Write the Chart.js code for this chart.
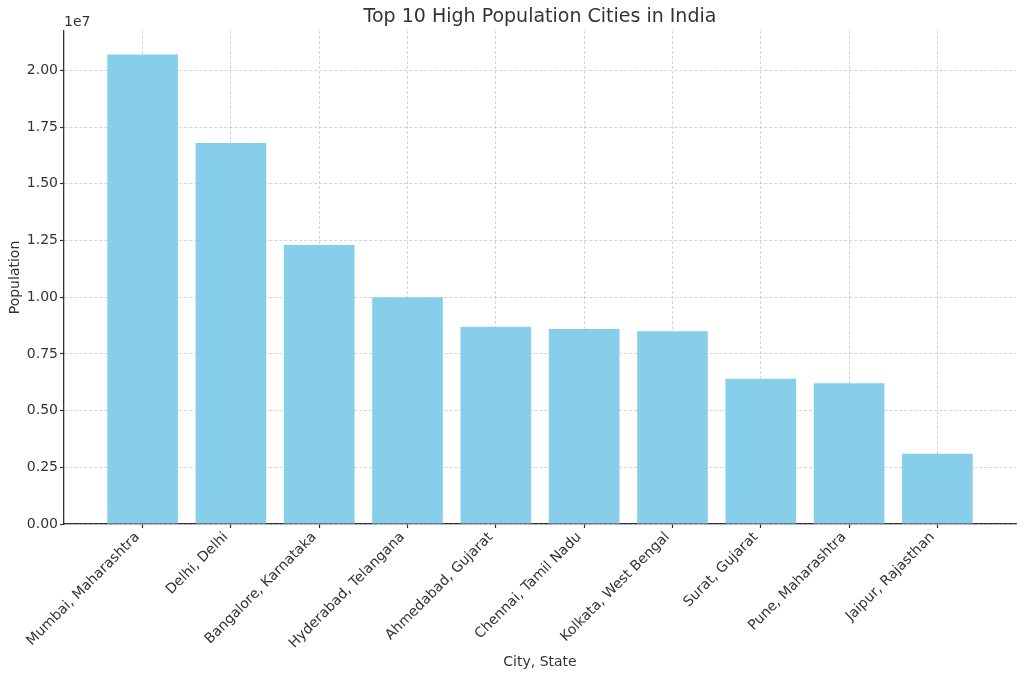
<!DOCTYPE html>
<html>
<head>
<meta charset="utf-8">
<script src="https://cdn.jsdelivr.net/npm/chart.js@4.4.1/dist/chart.umd.min.js"></script>
<style>
  html, body { margin: 0; padding: 0; background: #fff; }
  canvas { display: block; }
</style>
</head>
<body>
<canvas id="popChart" width="1024" height="680"></canvas>
<script>
const cities = [
    'Mumbai, Maharashtra', 'Delhi, Delhi', 'Bangalore, Karnataka', 'Hyderabad, Telangana',
    'Ahmedabad, Gujarat', 'Chennai, Tamil Nadu', 'Kolkata, West Bengal', 'Surat, Gujarat',
    'Pune, Maharashtra', 'Jaipur, Rajasthan'
];
const population = [20700000, 16800000, 12300000, 10000000, 8700000, 8600000, 8500000, 6400000, 6200000, 3100000];
const yTicks = [0, 2500000, 5000000, 7500000, 10000000, 12500000, 15000000, 17500000, 20000000];

const textColor = '#333333';
const gridColor = 'rgba(165, 165, 165, 0.6)';
const fontFamily = 'DejaVu Sans';

// title and the "1e7" offset text, drawn like matplotlib does
const headerPlugin = {
    id: 'header',
    afterDraw(chart) {
        const { ctx, chartArea } = chart;
        ctx.save();
        ctx.fillStyle = textColor;
        ctx.textBaseline = 'middle';
        ctx.font = '19px "' + fontFamily + '"';
        ctx.textAlign = 'center';
        ctx.fillText('Top 10 High Population Cities in India', (chartArea.left + chartArea.right) / 2, 17);
        ctx.font = '14px "' + fontFamily + '"';
        ctx.textAlign = 'left';
        ctx.fillText('1e7', chartArea.left, 22);
        ctx.restore();
    }
};

const ctx = document.getElementById('popChart').getContext('2d');

new Chart(ctx, {
    type: 'bar',
    data: {
        datasets: [{
            data: population.map((v, i) => ({ x: i, y: v })),
            backgroundColor: '#87CEEB',
            borderWidth: 0,
            barPercentage: 0.8,
            categoryPercentage: 1.0
        }]
    },
    options: {
        responsive: false,
        animation: false,
        devicePixelRatio: 1,
        layout: {
            padding: { top: 31, right: 8, left: 0, bottom: 0 }
        },
        plugins: {
            legend: { display: false },
            tooltip: { enabled: false },
            title: { display: false }
        },
        scales: {
            x: {
                type: 'linear',
                min: -0.89,
                max: 9.89,
                offset: false,
                z: 1,
                afterBuildTicks: (scale) => {
                    scale.ticks = cities.map((c, i) => ({ value: i }));
                },
                afterFit: (scale) => {
                    scale.height = 156;
                    scale.paddingLeft = 0;
                    scale.paddingRight = 0;
                },
                ticks: {
                    autoSkip: false,
                    minRotation: 45,
                    maxRotation: 45,
                    padding: 1,
                    labelOffset: -5,
                    color: textColor,
                    font: { family: fontFamily, size: 14 },
                    callback: (value) => cities[value]
                },
                grid: {
                    offset: false,
                    color: gridColor,
                    lineWidth: 0.8,
                    drawTicks: true,
                    tickLength: 4,
                    tickColor: textColor,
                    tickWidth: 1.2
                },
                border: {
                    display: true,
                    color: textColor,
                    width: 1.3,
                    dash: [3, 2]
                },
                title: {
                    display: true,
                    text: 'City, State',
                    color: textColor,
                    font: { family: fontFamily, size: 14 },
                    padding: { top: 0, bottom: 9 }
                }
            },
            y: {
                type: 'linear',
                min: 0,
                max: 21735000,
                z: 1,
                afterBuildTicks: (scale) => {
                    scale.ticks = yTicks.map(v => ({ value: v }));
                },
                afterFit: (scale) => {
                    scale.width = 64;
                },
                ticks: {
                    padding: 2,
                    color: textColor,
                    font: { family: fontFamily, size: 14 },
                    callback: (value) => (value / 1e7).toFixed(2)
                },
                grid: {
                    color: gridColor,
                    lineWidth: 0.8,
                    drawTicks: true,
                    tickLength: 4,
                    tickColor: textColor,
                    tickWidth: 1.2
                },
                border: {
                    display: true,
                    color: textColor,
                    width: 1.3,
                    dash: [3, 2]
                },
                title: {
                    display: true,
                    text: 'Population',
                    color: textColor,
                    font: { family: fontFamily, size: 14 },
                    padding: { top: 7, bottom: 0 }
                }
            }
        }
    },
    plugins: [headerPlugin]
});
</script>
</body>
</html>
